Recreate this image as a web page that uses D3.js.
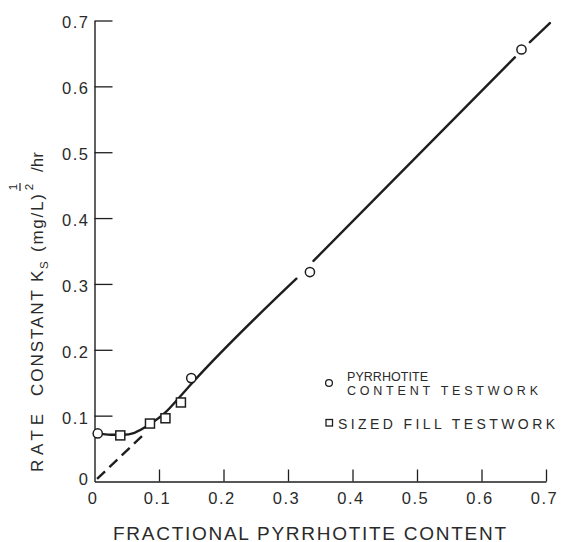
<!DOCTYPE html>
<html>
<head>
<meta charset="utf-8">
<script src="https://cdn.jsdelivr.net/npm/d3@7/dist/d3.min.js"></script>
<style>
  html, body { margin: 0; padding: 0; background: #fff; }
  svg { display: block; }
  text { font-family: "Liberation Sans", "DejaVu Sans", sans-serif; fill: #2a2a2a; }
</style>
</head>
<body>
<svg id="chart" width="577" height="542"></svg>
<script>
// Pyrrhotite content testwork (circles)
const pyrrhotiteX = [0.005, 0.150, 0.334, 0.662];
const pyrrhotiteY = [0.073, 0.157, 0.318, 0.656];

// Sized fill testwork (squares)
const sizedFillX = [0.040, 0.086, 0.110, 0.134];
const sizedFillY = [0.070, 0.088, 0.096, 0.120];

// Fitted curve; null marks a break in the drawn line
const fitX = [0.005, 0.025, 0.045, 0.062, 0.086, 0.110, 0.130, 0.150, 0.313, 0.320, 0.3395, 0.6517, 0.660, 0.675, 0.706];
const fitY = [0.073, 0.071, 0.071, 0.074, 0.087, 0.105, 0.126, 0.148, 0.308, null, 0.335, 0.644, null, 0.667, 0.696];

// Dashed extrapolation to the origin
const dashX = [0.004, 0.078];
const dashY = [0.004, 0.073];

const xTicks = [0, 0.1, 0.2, 0.3, 0.4, 0.5, 0.6, 0.7];
const xTickLabels = ["0", "0.1", "0.2", "0.3", "0.4", "0.5", "0.6", "0.7"];
const yTicks = [0, 0.1, 0.2, 0.3, 0.4, 0.5, 0.6, 0.7];
const yTickLabels = ["0", "0.1", "0.2", "0.3", "0.4", "0.5", "0.6", "0.7"];

const legendLabels = [["PYRRHOTITE", "CONTENT  TESTWORK"], ["SIZED  FILL  TESTWORK"]];

const svg = d3.select("#chart");
const ink = "#1e1e1e";
const tickFont = "Liberation Sans, sans-serif";

const x = d3.scaleLinear().domain([0, 0.7]).range([94.5, 546]);
const y = d3.scaleLinear().domain([0, 0.7]).range([481.5, 20.5]);

// Axes with inward ticks
const xAxis = d3.axisBottom(x)
  .tickValues(xTicks)
  .tickFormat((d, i) => xTickLabels[i])
  .tickSizeInner(-12).tickSizeOuter(0).tickPadding(11);
const yAxis = d3.axisLeft(y)
  .tickValues(yTicks.filter(v => v > 0))
  .tickFormat(d => yTickLabels[yTicks.indexOf(d)])
  .tickSizeInner(-18).tickSizeOuter(0).tickPadding(5);

const gx = svg.append("g").attr("transform", `translate(0,${y(0)})`).call(xAxis);
const gy = svg.append("g").attr("transform", `translate(${x(0)},0)`).call(yAxis);

[gx, gy].forEach(g => {
  g.select(".domain").attr("stroke", ink).attr("stroke-width", 1.4);
  g.selectAll(".tick line").attr("stroke", ink).attr("stroke-width", 1.3);
  g.selectAll(".tick text").attr("font-size", 16.5).attr("fill", "#2a2a2a")
    .attr("font-family", tickFont).attr("letter-spacing", 1.5);
});
gx.selectAll(".tick text").attr("dx", -2);
gy.selectAll(".tick text").attr("dy", "0.45em");
// zero label on the y axis (no tick at the corner)
gy.append("text").attr("x", -5).attr("y", y(0)).attr("dy", "0.2em")
  .attr("text-anchor", "end").attr("font-size", 16.5).attr("fill", "#2a2a2a")
  .attr("font-family", tickFont).attr("letter-spacing", 1.5).text(yTickLabels[0]);
gx.selectAll(".tick").filter(d => d === 0).select("line").remove();

// Fitted curve
const fitData = fitX.map((v, i) => ({x: v, y: fitY[i]}));
const fitLine = d3.line()
  .defined(d => d.y !== null)
  .x(d => x(d.x)).y(d => y(d.y))
  .curve(d3.curveMonotoneX);
svg.append("path").datum(fitData).attr("d", fitLine)
  .attr("fill", "none").attr("stroke", ink).attr("stroke-width", 2.4)
  .attr("stroke-linecap", "round");

// Dashed extension
const dashData = dashX.map((v, i) => ({x: v, y: dashY[i]}));
svg.append("path").datum(dashData)
  .attr("d", d3.line().x(d => x(d.x)).y(d => y(d.y)))
  .attr("fill", "none").attr("stroke", ink).attr("stroke-width", 2.4)
  .attr("stroke-dasharray", "11,6");

// Markers
const circles = pyrrhotiteX.map((v, i) => ({x: v, y: pyrrhotiteY[i]}));
const squares = sizedFillX.map((v, i) => ({x: v, y: sizedFillY[i]}));
svg.append("g").selectAll("circle").data(circles).join("circle")
  .attr("cx", d => x(d.x)).attr("cy", d => y(d.y)).attr("r", 4.6)
  .attr("fill", "#fff").attr("stroke", ink).attr("stroke-width", 1.5);
const sq = 9;
svg.append("g").selectAll("rect").data(squares).join("rect")
  .attr("x", d => x(d.x) - sq / 2).attr("y", d => y(d.y) - sq / 2)
  .attr("width", sq).attr("height", sq)
  .attr("fill", "#fff").attr("stroke", ink).attr("stroke-width", 1.5);

// Legend
const lg = svg.append("g");
lg.append("circle").attr("cx", 329).attr("cy", 383).attr("r", 3.4)
  .attr("fill", "#fff").attr("stroke", ink).attr("stroke-width", 1.3);
lg.append("text").attr("x", 347).attr("y", 380.5).attr("font-size", 12.5)
  .attr("textLength", 81).attr("lengthAdjust", "spacing").text(legendLabels[0][0]);
lg.append("text").attr("x", 347).attr("y", 395).attr("font-size", 12.5)
  .attr("textLength", 191).attr("lengthAdjust", "spacing").text(legendLabels[0][1]);
lg.append("rect").attr("x", 326).attr("y", 419.5).attr("width", 6.5).attr("height", 6.5)
  .attr("fill", "#fff").attr("stroke", ink).attr("stroke-width", 1.3);
lg.append("text").attr("x", 338).attr("y", 428.5).attr("font-size", 14)
  .attr("textLength", 217).attr("lengthAdjust", "spacing").text(legendLabels[1][0]);

// X axis title
svg.append("text").attr("x", 113).attr("y", 539.5).attr("font-size", 19)
  .attr("textLength", 393).attr("lengthAdjust", "spacing")
  .text("FRACTIONAL  PYRRHOTITE  CONTENT");

// Y axis title, built in a rotated frame
const yt = svg.append("g").attr("transform", "translate(42.5,474) rotate(-90)");
yt.append("text").attr("x", 2).attr("y", 0).attr("font-size", 17)
  .attr("textLength", 58).attr("lengthAdjust", "spacing").text("RATE");
yt.append("text").attr("x", 78).attr("y", 0).attr("font-size", 17)
  .attr("textLength", 106).attr("lengthAdjust", "spacing").text("CONSTANT");
yt.append("text").attr("x", 192).attr("y", 0).attr("font-size", 17).text("K");
yt.append("text").attr("x", 205).attr("y", 5).attr("font-size", 11.5).text("S");
yt.append("text").attr("x", 222).attr("y", 0).attr("font-size", 17)
  .attr("textLength", 58).attr("lengthAdjust", "spacing").text("(mg/L)");
yt.append("text").attr("x", 287).attr("y", -10).attr("font-size", 11.5)
  .attr("text-anchor", "middle").text("2");
yt.append("line").attr("x1", 283).attr("x2", 291).attr("y1", -22.5).attr("y2", -22.5)
  .attr("stroke", ink).attr("stroke-width", 1.2);
yt.append("text").attr("x", 287).attr("y", -25.5).attr("font-size", 11.5)
  .attr("text-anchor", "middle").text("1");
yt.append("text").attr("x", 302).attr("y", 0).attr("font-size", 17).text("/hr");
</script>
</body>
</html>
